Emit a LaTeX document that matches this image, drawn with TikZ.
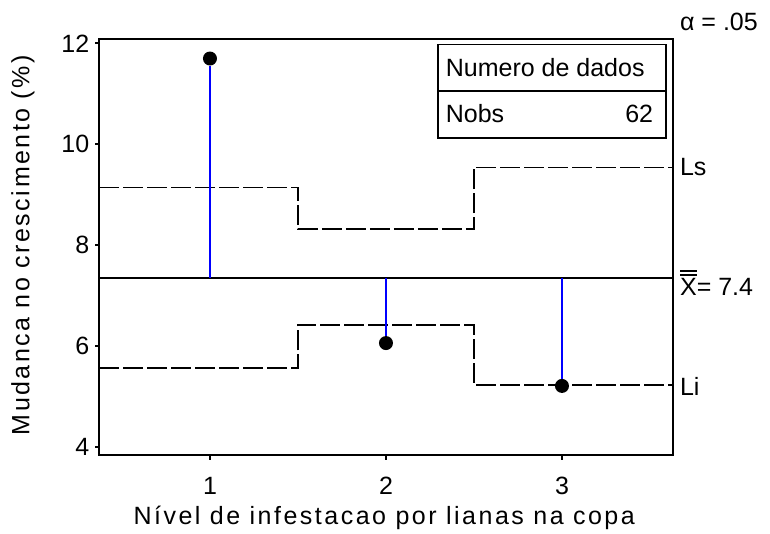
\documentclass[tikz,border=0pt]{standalone}
\usepackage{fontspec}
\setmainfont{Liberation Sans}
\newfontfamily\widefont[LetterSpace=10]{Liberation Sans}
\newcommand{\xbarbar}{\setbox0\hbox{X}\vbox{\hrule width\wd0 height .7pt\kern1.3pt\hrule width\wd0 height .7pt\kern1.4pt\box0}}

\begin{document}
\begin{tikzpicture}[x=3.093cm,y=0.8866cm,font=\fontsize{12.5}{15}\selectfont,
        frame/.style={line width=1pt},
        limit/.style={line width=0.8pt,dash pattern=on 10pt off 2pt},
        dot/.style={circle,fill=black,inner sep=0pt,minimum size=7pt},
        stem/.style={blue,line width=0.7pt}]
        \useasboundingbox (-0.193,2.295) rectangle (4.182,12.86);
        \draw[frame] (0.371,3.84) rectangle (3.631,12.087);
        \foreach \v in {4,6,...,12} {
                \draw[frame] (0.371,\v) -- (0.349,\v);
                \node[anchor=east](yt\v) at (0.354,\v) {\v};
        }
        \foreach \g in {1,2,3} {
                \draw[frame] (\g,3.84) -- (\g,3.74);
                \node(xt\g) at (\g,3.227) {\g};
        }
        \node[rotate=90](ylab) at (-0.063,8.0) {\widefont Mudanca no crescimento (\%)};
        \node(xlab) at (1.99,2.6) {\widefont Nível de infestacao por lianas na copa};
        \draw[limit] (0.371,9.14) -- (1.5,9.14) -- (1.5,8.32) -- (2.5,8.32) -- (2.5,9.54) -- (3.631,9.54);
        \draw[limit] (0.371,5.57) -- (1.5,5.57) -- (1.5,6.42) -- (2.5,6.42) -- (2.5,5.23) -- (3.631,5.23);
        \draw[line width=0.8pt] (0.371,7.35) -- (3.631,7.35);
        \node[anchor=west](ls) at (3.631,9.54) {Ls};
        \node[anchor=west](li) at (3.631,5.2) {Li};
        \node[anchor=west](mean) at (3.631,7.25) {\xbarbar= 7.4};
        \node[anchor=west](alpha) at (3.631,12.42) {α = .05};
        \node[dot](p1) at (1,11.70) {};
        \node[dot](p2) at (2,6.06) {};
        \node[dot](p3) at (3,5.21) {};
        \coordinate(m1) at (1,7.35);
        \coordinate(m2) at (2,7.35);
        \coordinate(m3) at (3,7.35);
        \draw[stem](m1)--(p1);
        \draw[stem](m2)--(p2);
        \draw[stem](m3)--(p3);
        \draw[line width=0.8pt] (2.294,10.13) rectangle (3.591,11.98);
        \draw[line width=0.8pt] (2.294,11.06) -- (3.591,11.06);
        \node[anchor=west](title) at (2.30,11.52) {Numero de dados};
        \node[anchor=west](nobs) at (2.30,10.6) {Nobs};
        \node[anchor=east](n) at (3.558,10.6) {62};
\end{tikzpicture}
\end{document}
